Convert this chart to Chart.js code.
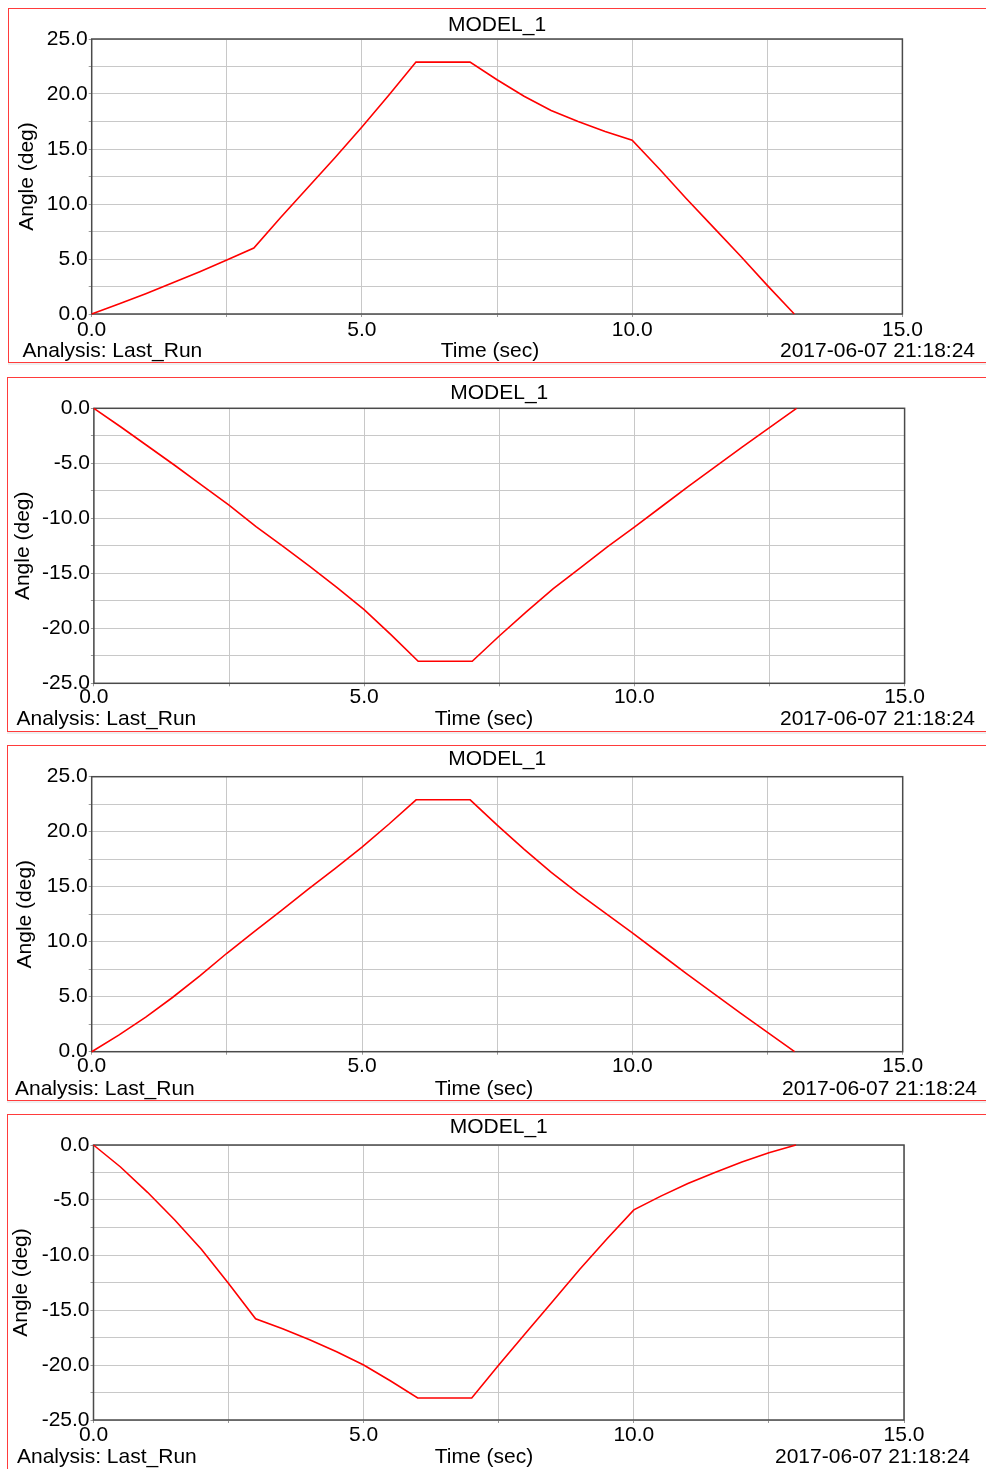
<!DOCTYPE html>
<html>
<head>
<meta charset="utf-8">
<script src="https://cdn.jsdelivr.net/npm/chart.js@4"></script>
<style>
  html, body { margin: 0; padding: 0; background: #fff; overflow: hidden; }
  body { width: 986px; height: 1469px; position: relative; font-family: "Liberation Sans", Arial, sans-serif; }
  .panel { position: absolute; width: 1000px; border: 1px solid #ff3b3b; box-shadow: 0 2px 0 #efefef; }
  .panel canvas { display: block; }
  .foot { position: absolute; font-size: 21px; line-height: 24px; color: #000; white-space: nowrap; }
</style>
</head>
<body>
<script>
// Time axis (sec) shared by the four runs
const timeSec = [0, 0.5, 1, 1.5, 2, 2.5, 3, 3.5, 4, 4.5, 5, 5.5, 6, 6.5, 7, 7.5, 8, 8.5, 9, 9.5, 10, 10.5, 11, 11.5, 12, 12.5, 13];

// Angle (deg) of each panel
const angle1 = [0, 0.9, 1.85, 2.85, 3.85, 4.9, 6.0, 8.8, 11.5, 14.2, 17.0, 19.9, 22.9, 22.9, 22.9, 21.3, 19.8, 18.5, 17.5, 16.6, 15.8, 13.2, 10.5, 7.9, 5.3, 2.6, 0];
const angle2 = [0, -1.7, -3.45, -5.2, -7.0, -8.8, -10.75, -12.55, -14.4, -16.3, -18.3, -20.6, -23.0, -23.0, -23.0, -20.7, -18.5, -16.4, -14.5, -12.6, -10.8, -8.95, -7.1, -5.3, -3.5, -1.75, 0];
const angle3 = [0, 1.5, 3.15, 4.95, 6.9, 8.95, 10.9, 12.8, 14.75, 16.65, 18.6, 20.7, 22.9, 22.9, 22.9, 20.6, 18.4, 16.3, 14.4, 12.6, 10.8, 8.95, 7.1, 5.3, 3.5, 1.75, 0];
const angle4 = [0, -2.0, -4.3, -6.8, -9.5, -12.6, -15.8, -16.7, -17.7, -18.8, -20.0, -21.45, -23.0, -23.0, -23.0, -20.0, -17.1, -14.2, -11.3, -8.55, -5.9, -4.65, -3.5, -2.5, -1.55, -0.7, 0];

// Axis ranges
const xRange = [0, 15];
const yRangePos = [0, 25];
const yRangeNeg = [-25, 0];

// Texts
const chartTitle = 'MODEL_1';
const yTitle = 'Angle (deg)';
const xTitle = 'Time (sec)';
const analysisText = 'Analysis: Last_Run';
const dateText = '2017-06-07 21:18:24';

// page layout of each panel (px, page coords)
const panels = [
  { data: angle1, yr: yRangePos, box: {left: 8, top: 8, height: 355}, plot: {l: 91.7, r: 902.4, t: 39, b: 314},
    titleY: 25, yTitleX: 27.5, tickY: 330, footY: 350, timeX: 490, anaX: 22.5, dateR: 975 },
  { data: angle2, yr: yRangeNeg, box: {left: 7, top: 377, height: 355}, plot: {l: 93.9, r: 904.6, t: 408.3, b: 683.3},
    titleY: 393, yTitleX: 23, tickY: 697, footY: 718, timeX: 484, anaX: 16.5, dateR: 975 },
  { data: angle3, yr: yRangePos, box: {left: 7, top: 745, height: 356}, plot: {l: 91.7, r: 902.7, t: 776.7, b: 1051.7},
    titleY: 759, yTitleX: 25, tickY: 1066, footY: 1088, timeX: 484, anaX: 15, dateR: 977 },
  { data: angle4, yr: yRangeNeg, box: {left: 7, top: 1114, height: 400}, plot: {l: 93.5, r: 904, t: 1145, b: 1420},
    titleY: 1127, yTitleX: 21, tickY: 1435, footY: 1456, timeX: 484, anaX: 17, dateR: 970 }
];

const FONT = { family: '"Liberation Sans", Arial, sans-serif', size: 21 };
const HALF_LINE = FONT.size * 1.2 / 2;
const CANVAS_W = 978;

// dark frame around the plot area
const framePlugin = {
  id: 'frame',
  beforeDatasetsDraw(chart) {
    const {ctx, chartArea: a} = chart;
    ctx.save();
    ctx.strokeStyle = '#4a4a4a';
    ctx.lineWidth = 1.5;
    ctx.strokeRect(a.left, a.top, a.right - a.left, a.bottom - a.top);
    ctx.restore();
  }
};

function label5(v) {
  return Math.abs(v % 5) < 1e-9 ? v.toFixed(1) : '';
}

function addFoot(text, x, y, align) {
  const el = document.createElement('div');
  el.className = 'foot';
  el.textContent = text;
  el.style.top = (y - 12) + 'px';
  if (align === 'left') el.style.left = x + 'px';
  else if (align === 'right') el.style.right = (986 - x) + 'px';
  else { el.style.left = x + 'px'; el.style.transform = 'translateX(-50%)'; }
  document.body.appendChild(el);
}

function makePanel(p) {
  const div = document.createElement('div');
  div.className = 'panel';
  div.style.left = p.box.left + 'px';
  div.style.top = p.box.top + 'px';
  div.style.height = (p.box.height - 2) + 'px';
  const canvas = document.createElement('canvas');
  const cx = p.box.left + 1, cy = p.box.top + 1;
  const H = p.box.height - 2;
  canvas.width = CANVAS_W;
  canvas.height = H;
  div.appendChild(canvas);
  document.body.appendChild(div);

  // geometry relative to the canvas
  const padLeft = p.yTitleX - cx - HALF_LINE;
  const yWidth = p.plot.l - cx - padLeft;
  const padRight = CANVAS_W - (p.plot.r - cx);
  const xHeight = H - (p.plot.b - cy);
  const xTickPad = p.tickY - p.plot.b - 3 - HALF_LINE;

  new Chart(canvas, {
    type: 'line',
    data: {
      datasets: [{
        data: timeSec.map((t, i) => ({x: t, y: p.data[i]})),
        borderColor: '#ff0000',
        borderWidth: 1.6,
        pointRadius: 0,
        tension: 0,
        clip: 4
      }]
    },
    options: {
      responsive: false,
      animation: false,
      events: [],
      layout: { padding: {left: padLeft, right: padRight, top: 0, bottom: 0} },
      plugins: {
        legend: {display: false},
        tooltip: {enabled: false},
        title: {
          display: true,
          text: chartTitle,
          fullSize: false,
          color: '#000',
          font: {...FONT, weight: 'normal'},
          padding: {top: p.titleY - cy - HALF_LINE, bottom: p.plot.t - p.titleY - HALF_LINE}
        }
      },
      scales: {
        x: {
          type: 'linear',
          min: xRange[0], max: xRange[1],
          afterFit: s => { s.height = xHeight; },
          grid: {color: '#c8c8c8', lineWidth: 1, drawTicks: true, tickLength: 3, tickColor: '#9a9a9a'},
          border: {display: false},
          ticks: {stepSize: 2.5, autoSkip: false, maxRotation: 0, padding: xTickPad, color: '#000', font: FONT, callback: label5}
        },
        y: {
          min: p.yr[0], max: p.yr[1],
          afterFit: s => { s.width = yWidth; },
          grid: {color: '#c8c8c8', lineWidth: 1, drawTicks: true, tickLength: 3, tickColor: '#9a9a9a'},
          border: {display: false},
          ticks: {stepSize: 2.5, autoSkip: false, padding: 1, color: '#000', font: FONT, callback: label5},
          title: {display: true, text: yTitle, color: '#000', font: FONT, padding: {top: 0, bottom: 0}}
        }
      }
    },
    plugins: [framePlugin]
  });

  addFoot(analysisText, p.anaX, p.footY, 'left');
  addFoot(xTitle, p.timeX, p.footY, 'center');
  addFoot(dateText, p.dateR, p.footY, 'right');
}

panels.forEach(makePanel);
</script>
</body>
</html>
